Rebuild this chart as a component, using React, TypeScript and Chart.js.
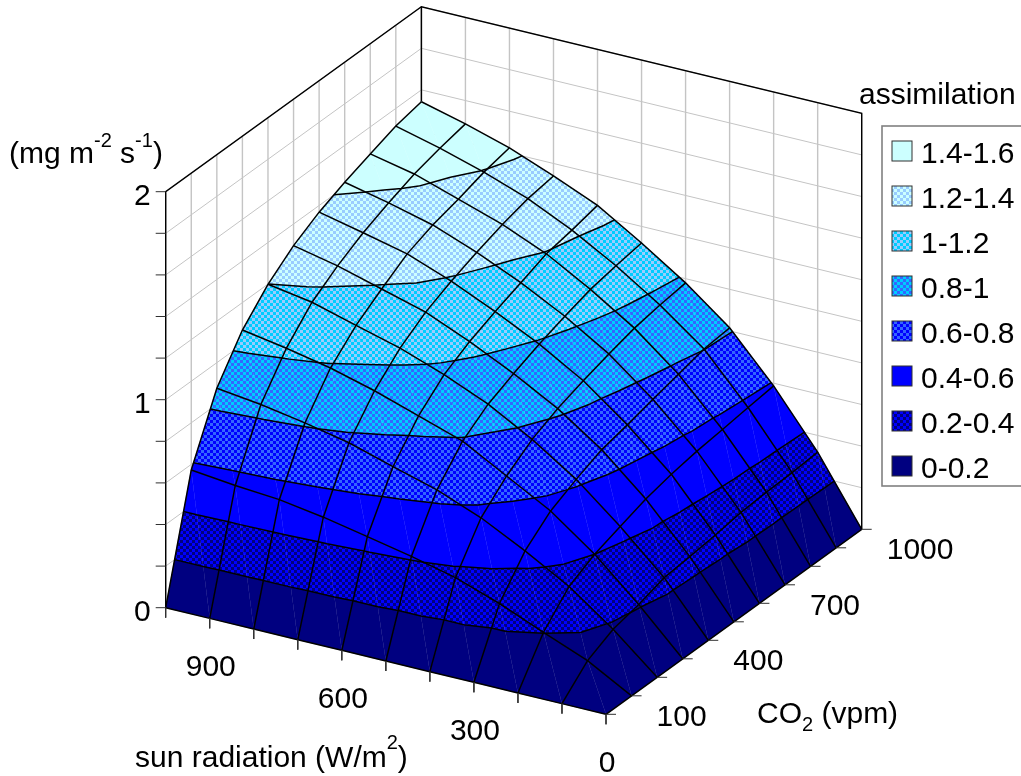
import React, { useEffect, useRef } from "react";
import { Chart, registerables } from "chart.js";

Chart.register(...registerables);

const radiationLevels = [0, 100, 200, 300, 400, 500, 600, 700, 800, 900, 1000];
const co2Levels = [0, 100, 200, 300, 400, 500, 600, 700, 800, 900, 1000];
const radiationLabels = [0, 300, 600, 900];
const co2Labels = [100, 400, 700, 1000];
const heightLabels = [0, 1, 2];
const heightGrid = [0.2, 0.4, 0.6, 0.8, 1, 1.2, 1.4, 1.6, 1.8, 2];

const assimilationAt0 = [0, 0, 0, 0, 0, 0, 0, 0, 0, 0, 0];
const assimilationAt100 = [0, 0.118, 0.18, 0.21, 0.25, 0.262, 0.277, 0.297, 0.305, 0.31, 0.32];
const assimilationAt200 = [0, 0.203, 0.334, 0.4, 0.445, 0.488, 0.518, 0.54, 0.555, 0.572, 0.587];
const assimilationAt300 = [0, 0.29, 0.454, 0.557, 0.62, 0.674, 0.704, 0.738, 0.77, 0.802, 0.815];
const assimilationAt400 = [0, 0.363, 0.562, 0.674, 0.761, 0.82, 0.865, 0.905, 0.94, 0.962, 0.98];
const assimilationAt500 = [0, 0.414, 0.645, 0.79, 0.879, 0.937, 0.99, 1.035, 1.075, 1.1, 1.12];
const assimilationAt600 = [0, 0.458, 0.705, 0.86, 0.97, 1.04, 1.095, 1.145, 1.195, 1.22, 1.25];
const assimilationAt700 = [0, 0.5, 0.769, 0.93, 1.046, 1.13, 1.19, 1.24, 1.285, 1.32, 1.34];
const assimilationAt800 = [0, 0.533, 0.813, 0.988, 1.104, 1.19, 1.27, 1.32, 1.355, 1.396, 1.424];
const assimilationAt900 = [0, 0.55, 0.85, 1.032, 1.164, 1.25, 1.32, 1.375, 1.425, 1.46, 1.488];
const assimilationAt1000 = [0, 0.573, 0.877, 1.068, 1.199, 1.296, 1.368, 1.423, 1.47, 1.515, 1.543];
const assimilation = [
  assimilationAt0, assimilationAt100, assimilationAt200, assimilationAt300,
  assimilationAt400, assimilationAt500, assimilationAt600, assimilationAt700,
  assimilationAt800, assimilationAt900, assimilationAt1000,
];

const bandLabels = ["1.4-1.6", "1.2-1.4", "1-1.2", "0.8-1", "0.6-0.8", "0.4-0.6", "0.2-0.4", "0-0.2"];
const bandLower = [1.4, 1.2, 1, 0.8, 0.6, 0.4, 0.2, 0];
const bandColorA = ["#CCFFFF", "#CCFFFF", "#00CCFF", "#00CCFF", "#3366FF", "#0000FF", "#0000FF", "#000080"];
const bandColorB = ["#CCFFFF", "#99CCFF", "#99CCFF", "#3366FF", "#0000FF", "#0000FF", "#000080", "#000080"];

const W = 1021;
const H = 776;
const ORIGIN = [606, 714.3];
const R_VEC = [-440.3, -106.6];
const C_VEC = [255.7, -185];
const Z_SPAN = 416;
const Z_MAX = 2;
const R_MAX = 1000;
const C_MAX = 1000;
const FONT = "'Liberation Sans', Arial, sans-serif";
const BIG = 30;
const SMALL = 20;

type P3 = { r: number; c: number; z: number };

const project = (r: number, c: number, z: number) => ({
  x: ORIGIN[0] + (r / R_MAX) * R_VEC[0] + (c / C_MAX) * C_VEC[0],
  y: ORIGIN[1] + (r / R_MAX) * R_VEC[1] + (c / C_MAX) * C_VEC[1] - (z / Z_MAX) * Z_SPAN,
});
const proj = (p: P3) => project(p.r, p.c, p.z);

function clipAbove(poly: P3[], level: number, keepAbove: boolean): P3[] {
  const out: P3[] = [];
  const inside = (p: P3) => (keepAbove ? p.z >= level : p.z <= level);
  for (let i = 0; i < poly.length; i++) {
    const a = poly[i];
    const b = poly[(i + 1) % poly.length];
    if (inside(a)) out.push(a);
    if (inside(a) !== inside(b)) {
      const t = (level - a.z) / (b.z - a.z);
      out.push({ r: a.r + t * (b.r - a.r), c: a.c + t * (b.c - a.c), z: level });
    }
  }
  return out;
}

function makePattern(ctx: CanvasRenderingContext2D, a: string, b: string) {
  if (a === b) return a;
  const tile = document.createElement("canvas");
  tile.width = 6;
  tile.height = 6;
  const t = tile.getContext("2d")!;
  t.fillStyle = a;
  t.fillRect(0, 0, 6, 6);
  t.fillStyle = b;
  t.fillRect(0, 0, 3, 3);
  t.fillRect(3, 3, 3, 3);
  return ctx.createPattern(tile, "repeat")!;
}

function triangles(): P3[][] {
  const list: P3[][] = [];
  for (let i = 0; i < radiationLevels.length - 1; i++) {
    for (let j = 0; j < co2Levels.length - 1; j++) {
      const pt = (a: number, b: number): P3 => ({ r: radiationLevels[a], c: co2Levels[b], z: assimilation[a][b] });
      list.push([pt(i, j), pt(i + 1, j), pt(i + 1, j + 1)]);
      list.push([pt(i, j), pt(i + 1, j + 1), pt(i, j + 1)]);
    }
  }
  return list;
}

function lineDs(data: { x: number; y: number }[], color: string, width: number) {
  return {
    type: "scatter" as const,
    data,
    showLine: true,
    fill: false,
    borderColor: color,
    borderWidth: width,
    pointRadius: 0,
    spanGaps: false,
    tension: 0,
    clip: false,
  };
}

function buildDatasets(ctx: CanvasRenderingContext2D, patterns: (string | CanvasPattern)[]) {
  const painted: any[] = [];
  const grid = "#C4C4C4";

  for (const z of heightGrid) {
    painted.push(lineDs([project(R_MAX, 0, z), project(R_MAX, C_MAX, z)], grid, 1));
    painted.push(lineDs([project(R_MAX, C_MAX, z), project(0, C_MAX, z)], grid, 1));
  }
  for (const c of co2Levels) painted.push(lineDs([project(R_MAX, c, 0), project(R_MAX, c, Z_MAX)], grid, 1.4));
  for (const r of radiationLevels) painted.push(lineDs([project(r, C_MAX, 0), project(r, C_MAX, Z_MAX)], grid, 1.4));

  painted.push(lineDs([project(R_MAX, 0, 0), project(R_MAX, 0, Z_MAX), project(R_MAX, C_MAX, Z_MAX), project(0, C_MAX, Z_MAX), project(0, C_MAX, 0)], "#000", 1.4));
  painted.push(lineDs([project(R_MAX, C_MAX, Z_MAX), project(R_MAX, C_MAX, 0)], "#000", 1.4));

  const tris = triangles();
  bandLower.forEach((lo, b) => {
    const hi = lo + 0.2;
    for (const tri of tris) {
      const part = clipAbove(clipAbove(tri, lo, true), hi, false);
      if (part.length < 3) continue;
      const pts = part.map(proj);
      painted.push({
        type: "scatter" as const,
        data: [...pts, pts[0]],
        showLine: true,
        fill: "shape",
        backgroundColor: patterns[b],
        borderColor: patterns[b],
        borderWidth: 0.35,
        pointRadius: 0,
        tension: 0,
        clip: false,
      });
    }
  });

  for (let i = 0; i < radiationLevels.length; i++) {
    painted.push(lineDs(co2Levels.map((c, j) => project(radiationLevels[i], c, assimilation[i][j])), "#000", 1.5));
  }
  for (let j = 0; j < co2Levels.length; j++) {
    painted.push(lineDs(radiationLevels.map((r, i) => project(r, co2Levels[j], assimilation[i][j])), "#000", 1.5));
  }

  for (const level of bandLower) {
    if (level === 0) continue;
    const pts: { x: number; y: number }[] = [];
    for (const tri of tris) {
      const cuts: P3[] = [];
      for (let k = 0; k < 3; k++) {
        const a = tri[k];
        const b = tri[(k + 1) % 3];
        if (a.z < level !== b.z < level) {
          const t = (level - a.z) / (b.z - a.z);
          cuts.push({ r: a.r + t * (b.r - a.r), c: a.c + t * (b.c - a.c), z: level });
        }
      }
      if (cuts.length === 2) pts.push(proj(cuts[0]), proj(cuts[1]), { x: NaN, y: NaN });
    }
    painted.push(lineDs(pts, "#000", 1.5));
  }

  const tickColor = "#303030";
  for (const r of radiationLevels) {
    const p = project(r, 0, 0);
    painted.push(lineDs([p, { x: p.x, y: p.y + 10 }], tickColor, 1));
  }
  for (const c of co2Levels) {
    const p = project(0, c, 0);
    painted.push(lineDs([p, { x: p.x + 10, y: p.y }], tickColor, 1));
  }
  for (const z of [0, ...heightGrid]) {
    const p = project(R_MAX, 0, z);
    painted.push(lineDs([p, { x: p.x - 10, y: p.y }], tickColor, 1));
  }
  return painted.reverse();
}

function runs(ctx: CanvasRenderingContext2D, x: number, baseline: number, parts: [string, number, number][]) {
  let cx = x;
  for (const [text, size, dy] of parts) {
    ctx.save();
    ctx.font = `${size}px ${FONT}`;
    ctx.textAlign = "left";
    ctx.textBaseline = "alphabetic";
    ctx.fillStyle = "#000";
    ctx.fillText(text, cx, baseline + dy);
    cx += ctx.measureText(text).width;
    ctx.restore();
  }
}

function label(ctx: CanvasRenderingContext2D, text: string, x: number, baseline: number, align: CanvasTextAlign) {
  ctx.save();
  ctx.font = `${BIG}px ${FONT}`;
  ctx.textAlign = align;
  ctx.textBaseline = "alphabetic";
  ctx.fillStyle = "#000";
  ctx.fillText(text, x, baseline);
  ctx.restore();
}

export default function App() {
  const ref = useRef<HTMLCanvasElement>(null);
  useEffect(() => {
    const canvas = ref.current!;
    const ctx = canvas.getContext("2d")!;
    const patterns = bandColorA.map((a, i) => makePattern(ctx, a, bandColorB[i]));

    const textPlugin = {
      id: "surfaceText",
      afterDraw(chart: any) {
        const c: CanvasRenderingContext2D = chart.ctx;
        for (const r of radiationLabels) {
          const p = project(r, 0, 0);
          label(c, String(r), p.x + 1, p.y + 58, "center");
        }
        for (const v of co2Labels) {
          const p = project(0, v, 0);
          label(c, String(v), p.x + 25, p.y + 30, "left");
        }
        for (const z of heightLabels) {
          const p = project(R_MAX, 0, z);
          label(c, String(z), p.x - 15, p.y + 13, "right");
        }
        runs(c, 9, 163, [["(mg m", BIG, 0], ["-2", SMALL, -16], [" s", BIG, 0], ["-1", SMALL, -16], [")", BIG, 0]]);
        runs(c, 757, 723, [["CO", BIG, 0], ["2", SMALL, 8], [" (vpm)", BIG, 0]]);
        runs(c, 135, 767, [["sun radiation (W/m", BIG, 0], ["2", SMALL, -18], [")", BIG, 0]]);
        label(c, "assimilation", 859, 104, "left");

        c.save();
        c.strokeStyle = "#808080";
        c.lineWidth = 1.6;
        c.strokeRect(882, 126, 160, 360);
        bandLabels.forEach((text, i) => {
          const top = 141 + i * 45;
          c.fillStyle = patterns[i];
          c.fillRect(892, top, 20, 20);
          c.strokeStyle = "#303030";
          c.lineWidth = 1;
          c.strokeRect(892, top, 20, 20);
          label(c, text, 921, top + 22, "left");
        });
        c.restore();
      },
    };

    const chart = new Chart(canvas, {
      type: "scatter",
      data: { datasets: buildDatasets(ctx, patterns) },
      options: {
        responsive: false,
        animation: false,
        devicePixelRatio: 1,
        events: [],
        layout: { padding: 0 },
        plugins: { legend: { display: false }, tooltip: { enabled: false }, title: { display: false } },
        scales: {
          x: { type: "linear", display: false, min: 0, max: W },
          y: { type: "linear", display: false, min: 0, max: H, reverse: true },
        },
      },
      plugins: [textPlugin],
    } as any);
    return () => chart.destroy();
  }, []);
  return (
    <canvas
      ref={ref}
      width={W}
      height={H}
      style={{ position: "absolute", left: 0, top: 0, display: "block" }}
    />
  );
}
